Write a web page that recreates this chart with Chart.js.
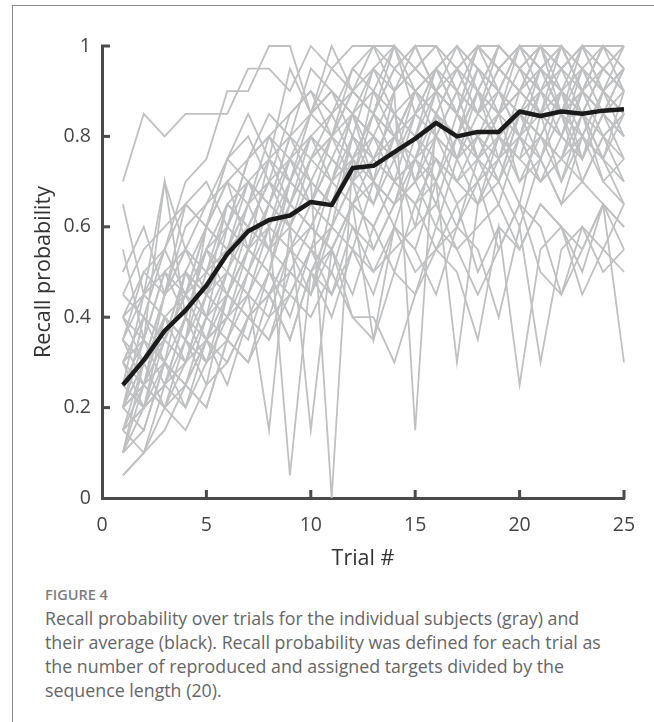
<!DOCTYPE html>
<html>
<head>
<meta charset="utf-8">
<script src="https://cdn.jsdelivr.net/npm/chart.js@4.4.1/dist/chart.umd.min.js"></script>
<style>
  html, body { margin:0; padding:0; background:#fff; }
  body { width:654px; height:722px; position:relative; overflow:hidden; font-family:"Open Sans", "Noto Sans", sans-serif; }
  #frame { position:absolute; left:12px; top:5px; right:-5px; bottom:-5px; border-left:1.5px solid #8c8c8c; border-top:1.5px solid #8c8c8c; }
  #wrap { position:absolute; left:0; top:0; width:654px; height:580px; }
  #fig { position:absolute; left:45px; top:585px; font-size:14.5px; font-weight:600; color:#7d7d7d; letter-spacing:0; }
  #cap { position:absolute; left:45px; top:606px; font-size:17.8px; line-height:24px; color:#666; white-space:nowrap; }
</style>
</head>
<body>
<div id="frame"></div>
<div id="wrap"><canvas id="c" width="654" height="580"></canvas></div>
<div id="fig">FIGURE 4</div>
<div id="cap">Recall probability over trials for the individual subjects (gray) and<br>their average (black). Recall probability was defined for each trial as<br>the number of reproduced and assigned targets divided by the<br>sequence length (20).</div>
<script>
const trials = [1,2,3,4,5,6,7,8,9,10,11,12,13,14,15,16,17,18,19,20,21,22,23,24,25];
const xTicks = [0,5,10,15,20,25];
const yTicks = [0,0.2,0.4,0.6,0.8,1];
const average = [0.25,0.305,0.37,0.415,0.47,0.54,0.59,0.615,0.625,0.655,0.648,0.73,0.735,0.765,0.795,0.83,0.80,0.81,0.81,0.855,0.845,0.855,0.85,0.857,0.86];

const subject01 = [0.70,0.85,0.80,0.85,0.85,0.85,0.95,0.95,0.90,1.00,0.95,1.00,1.00,0.95,1.00,1.00,0.95,1.00,1.00,0.95,1.00,1.00,0.95,1.00,1.00];
const subject02 = [0.40,0.50,0.55,0.70,0.75,0.90,0.90,1.00,1.00,0.85,0.95,0.90,1.00,1.00,0.95,1.00,0.90,1.00,0.95,1.00,1.00,0.90,1.00,0.95,1.00];
const subject03 = [0.65,0.45,0.70,0.55,0.65,0.75,0.80,0.70,0.85,0.90,0.80,0.95,0.90,1.00,0.85,0.95,1.00,0.90,1.00,0.95,0.90,1.00,0.95,0.90,0.95];
const subject04 = [0.55,0.35,0.70,0.40,0.55,0.60,0.75,0.80,0.70,0.85,0.90,0.85,0.80,0.90,0.95,0.90,0.85,0.95,0.90,1.00,0.95,0.90,0.85,0.95,0.90];
const subject05 = [0.30,0.40,0.35,0.50,0.45,0.65,0.70,0.60,0.75,0.70,0.80,0.85,0.75,0.80,0.90,0.85,0.80,0.90,0.85,0.90,0.95,0.85,0.90,0.85,0.95];
const subject06 = [0.20,0.30,0.40,0.35,0.50,0.55,0.60,0.70,0.65,0.75,0.80,0.70,0.85,0.80,0.75,0.90,0.85,0.80,0.90,0.85,0.80,0.90,0.95,0.90,0.85];
const subject07 = [0.25,0.20,0.35,0.45,0.40,0.50,0.65,0.55,0.60,0.70,0.65,0.80,0.75,0.70,0.85,0.80,0.90,0.75,0.85,0.90,0.85,0.80,0.90,0.85,0.80];
const subject08 = [0.15,0.25,0.30,0.25,0.40,0.45,0.55,0.50,0.65,0.60,0.70,0.75,0.65,0.80,0.70,0.85,0.75,0.80,0.70,0.85,0.80,0.90,0.75,0.85,0.75];
const subject09 = [0.10,0.20,0.25,0.30,0.35,0.40,0.35,0.50,0.45,0.55,0.50,0.65,0.60,0.70,0.65,0.75,0.70,0.65,0.75,0.80,0.70,0.75,0.80,0.70,0.65];
const subject10 = [0.05,0.10,0.20,0.15,0.25,0.30,0.40,0.35,0.45,0.55,0.60,0.55,0.70,0.65,0.75,0.70,0.60,0.75,0.80,0.70,0.75,0.65,0.80,0.75,0.70];
const subject11 = [0.35,0.30,0.45,0.50,0.60,0.55,0.65,0.75,0.80,0.70,0.00,0.75,0.85,0.80,0.90,0.85,0.95,0.85,0.90,0.80,0.95,0.90,0.85,0.95,0.90];
const subject12 = [0.20,0.35,0.25,0.40,0.30,0.45,0.55,0.60,0.05,0.50,0.60,0.70,0.65,0.75,0.60,0.80,0.70,0.75,0.85,0.70,0.80,0.75,0.70,0.80,0.70];
const subject13 = [0.30,0.25,0.40,0.30,0.45,0.50,0.45,0.15,0.60,0.15,0.55,0.65,0.60,0.70,0.75,0.65,0.80,0.70,0.75,0.65,0.85,0.70,0.80,0.75,0.85];
const subject14 = [0.40,0.45,0.50,0.55,0.50,0.65,0.60,0.70,0.75,0.80,0.75,0.85,0.70,0.90,0.15,0.85,0.80,0.90,0.85,0.95,0.85,0.90,0.80,0.90,0.85];
const subject15 = [0.25,0.35,0.30,0.40,0.55,0.50,0.60,0.55,0.65,0.60,0.70,0.65,0.35,0.60,0.55,0.70,0.30,0.65,0.70,0.60,0.75,0.65,0.70,0.65,0.30];
const subject16 = [0.15,0.20,0.25,0.20,0.30,0.35,0.30,0.40,0.45,0.40,0.50,0.40,0.40,0.30,0.45,0.55,0.50,0.35,0.60,0.25,0.55,0.60,0.45,0.55,0.50];
const subject17 = [0.30,0.40,0.35,0.45,0.35,0.40,0.50,0.45,0.55,0.50,0.45,0.55,0.50,0.60,0.55,0.45,0.60,0.55,0.40,0.60,0.30,0.55,0.60,0.50,0.55];
const subject18 = [0.20,0.15,0.30,0.20,0.35,0.25,0.40,0.45,0.35,0.50,0.55,0.45,0.60,0.50,0.65,0.55,0.60,0.70,0.55,0.65,0.60,0.45,0.55,0.65,0.60];
const subject19 = [0.10,0.25,0.20,0.35,0.30,0.40,0.45,0.40,0.55,0.45,0.60,0.70,0.55,0.65,0.70,0.75,0.65,0.70,0.80,0.75,0.70,0.80,0.75,0.85,0.80];
const subject20 = [0.45,0.55,0.60,0.65,0.70,0.60,0.75,0.80,0.85,0.90,0.85,0.95,1.00,0.90,0.95,1.00,0.95,0.90,1.00,0.95,1.00,0.95,1.00,0.90,0.95];
const subject21 = [0.35,0.50,0.45,0.60,0.65,0.70,0.65,0.80,0.75,0.85,0.90,0.80,0.95,0.85,0.90,0.95,1.00,0.95,0.85,1.00,0.90,0.95,1.00,1.00,0.95];
const subject22 = [0.20,0.30,0.45,0.55,0.50,0.60,0.70,0.65,0.80,0.75,0.85,0.90,0.85,0.95,0.90,0.85,0.95,1.00,0.90,0.85,0.95,1.00,0.90,0.95,1.00];
const subject23 = [0.25,0.45,0.40,0.35,0.60,0.70,0.55,0.75,0.70,0.80,0.75,0.70,0.90,0.80,0.85,0.90,0.75,0.85,0.95,0.90,0.85,0.80,0.95,0.85,0.90];
const subject24 = [0.15,0.30,0.35,0.30,0.45,0.40,0.55,0.65,0.60,0.70,0.65,0.75,0.80,0.75,0.80,0.90,0.85,0.80,0.75,0.90,0.85,0.95,0.85,0.80,0.85];
const subject25 = [0.30,0.20,0.25,0.40,0.35,0.50,0.45,0.60,0.55,0.65,0.75,0.70,0.75,0.85,0.80,0.75,0.70,0.80,0.85,0.80,0.90,0.85,0.75,0.90,0.80];
const subject26 = [0.10,0.15,0.30,0.25,0.20,0.35,0.50,0.45,0.50,0.60,0.55,0.65,0.70,0.60,0.75,0.80,0.75,0.65,0.80,0.75,0.80,0.70,0.85,0.75,0.65];
const subject27 = [0.20,0.25,0.20,0.30,0.40,0.35,0.45,0.55,0.50,0.45,0.65,0.60,0.55,0.65,0.70,0.60,0.75,0.80,0.70,0.80,0.75,0.85,0.70,0.80,0.75];
const subject28 = [0.40,0.35,0.50,0.45,0.55,0.45,0.55,0.65,0.75,0.65,0.80,0.75,0.85,0.75,0.85,0.95,0.85,0.75,0.85,0.90,1.00,0.85,0.95,0.90,1.00];
const subject29 = [0.50,0.60,0.45,0.65,0.60,0.75,0.85,0.75,0.95,0.85,1.00,0.90,0.95,1.00,0.90,0.95,0.85,1.00,0.95,0.90,1.00,0.95,0.90,1.00,0.90];
const subject30 = [0.35,0.25,0.45,0.55,0.45,0.55,0.50,0.65,0.60,0.55,0.70,0.80,0.70,0.65,0.80,0.70,0.85,0.75,0.65,0.80,0.70,0.75,0.85,0.70,0.75];
const subject31 = [0.20,0.40,0.30,0.50,0.40,0.60,0.55,0.50,0.70,0.65,0.60,0.80,0.75,0.85,0.70,0.80,0.90,0.85,0.80,0.75,0.90,0.85,0.80,0.90,0.85];
const subject32 = [0.15,0.10,0.25,0.35,0.25,0.45,0.40,0.50,0.40,0.55,0.45,0.60,0.50,0.55,0.60,0.65,0.55,0.60,0.65,0.55,0.65,0.60,0.55,0.65,0.55];
const subject33 = [0.25,0.30,0.40,0.35,0.45,0.55,0.50,0.60,0.70,0.65,0.75,0.70,0.80,0.70,0.75,0.85,0.80,0.90,0.75,0.85,0.80,0.75,0.90,0.80,0.85];
const subject34 = [0.45,0.40,0.55,0.65,0.60,0.70,0.75,0.85,0.80,0.95,0.90,0.85,0.95,0.90,1.00,0.90,0.95,0.85,0.95,1.00,0.95,0.85,0.90,1.00,0.95];
const subject35 = [0.30,0.35,0.50,0.40,0.55,0.65,0.60,0.70,0.65,0.75,0.70,0.85,0.80,0.75,0.90,0.80,0.75,0.90,0.80,0.85,0.75,0.90,0.85,0.75,0.90];
const subject36 = [0.40,0.30,0.35,0.45,0.50,0.45,0.60,0.55,0.70,0.80,0.85,0.75,0.70,0.80,0.90,0.85,0.80,0.95,0.90,0.80,0.85,1.00,0.90,0.85,0.80];
const subject37 = [0.20,0.25,0.35,0.50,0.45,0.55,0.65,0.70,0.60,0.75,0.80,0.90,0.85,0.95,1.00,0.90,0.85,1.00,0.95,0.90,1.00,0.95,1.00,0.95,0.90];
const subject38 = [0.10,0.30,0.20,0.25,0.35,0.45,0.40,0.45,0.55,0.60,0.55,0.65,0.75,0.70,0.65,0.70,0.80,0.75,0.70,0.85,0.90,0.80,0.75,0.85,0.95];
const subject39 = [0.35,0.45,0.55,0.45,0.60,0.75,0.70,0.65,0.80,0.85,0.80,0.90,0.85,1.00,0.95,0.90,1.00,0.95,0.90,1.00,0.95,1.00,0.90,1.00,1.00];
const subject40 = [0.25,0.20,0.40,0.45,0.60,0.55,0.70,0.75,0.65,0.80,0.70,0.85,0.90,0.85,0.80,0.95,0.90,0.85,1.00,0.95,0.90,0.85,1.00,0.90,0.95];
const subject41 = [0.15,0.20,0.30,0.25,0.35,0.30,0.40,0.35,0.50,0.45,0.55,0.40,0.35,0.50,0.45,0.60,0.55,0.45,0.55,0.65,0.50,0.45,0.60,0.55,0.65];
const subject42 = [0.05,0.10,0.15,0.25,0.20,0.35,0.30,0.45,0.35,0.50,0.40,0.55,0.45,0.60,0.50,0.55,0.65,0.50,0.60,0.55,0.65,0.60,0.50,0.65,0.60];

const subjects = [subject01,subject02,subject03,subject04,subject05,subject06,subject07,subject08,subject09,subject10,
  subject11,subject12,subject13,subject14,subject15,subject16,subject17,subject18,subject19,subject20,
  subject21,subject22,subject23,subject24,subject25,subject26,subject27,subject28,subject29,subject30,
  subject31,subject32,subject33,subject34,subject35,subject36,subject37,subject38,subject39,subject40,
  subject41,subject42];

const toPoints = arr => arr.map((v, i) => ({x: trials[i], y: v}));

const datasets = [{
  label: 'Average', data: toPoints(average), borderColor: '#1b1b1b', borderWidth: 4.5,
  pointRadius: 0, tension: 0, order: 0, clip: false, borderJoinStyle: 'round'
}];
subjects.forEach((s, k) => datasets.push({
  label: 'Subject ' + (k + 1), data: toPoints(s), borderColor: '#bec0c2', borderWidth: 1.8,
  pointRadius: 0, tension: 0, order: 1, clip: false
}));

const AXIS = '#4a4a4a';
const innerTicks = {
  id: 'innerTicks',
  afterDraw(chart) {
    const {ctx, scales: {x, y}} = chart;
    ctx.save();
    ctx.strokeStyle = AXIS;
    ctx.lineWidth = 3;
    ctx.lineCap = 'butt';
    const y0 = y.getPixelForValue(0), x0 = x.getPixelForValue(0);
    xTicks.forEach(t => { if (t === 0) return; const px = x.getPixelForValue(t);
      ctx.beginPath(); ctx.moveTo(px, y0 + 1); ctx.lineTo(px, y0 - 8); ctx.stroke(); });
    yTicks.forEach(t => { if (t === 0) return; const py = y.getPixelForValue(t);
      ctx.beginPath(); ctx.moveTo(x0 - 1, py); ctx.lineTo(x0 + 8, py); ctx.stroke(); });
    ctx.restore();
  }
};

const FONT = '"Open Sans", "Noto Sans", sans-serif';
new Chart(document.getElementById('c'), {
  type: 'line',
  data: { datasets },
  options: {
    responsive: false, animation: false, events: [],
    layout: { padding: { left: 0, right: 30, top: 46, bottom: 0 } },
    plugins: { legend: { display: false }, tooltip: { enabled: false } },
    scales: {
      x: {
        type: 'linear', min: 0, max: 25,
        afterBuildTicks: s => { s.ticks = xTicks.map(v => ({value: v})); },
        afterFit: s => { s.height = 82; },
        grid: { display: false, drawTicks: false },
        border: { display: true, color: AXIS, width: 3 },
        ticks: { color: '#454545', padding: 16, font: { family: FONT, size: 19.5 }, callback: v => String(v) },
        title: { display: true, text: 'Trial #', color: '#333', font: { family: FONT, size: 21.5 }, padding: { bottom: 8, top: 0 } }
      },
      y: {
        type: 'linear', min: 0, max: 1,
        afterBuildTicks: s => { s.ticks = yTicks.map(v => ({value: v})); },
        afterFit: s => { s.width = 102; },
        grid: { display: false, drawTicks: false },
        border: { display: true, color: AXIS, width: 3 },
        ticks: { color: '#454545', padding: 11, font: { family: FONT, size: 19.5 }, callback: v => String(v) },
        title: { display: true, text: 'Recall probability', color: '#333', font: { family: FONT, size: 21.5 }, padding: { top: 31, bottom: 0 } }
      }
    }
  },
  plugins: [innerTicks]
});
</script>
</body>
</html>
